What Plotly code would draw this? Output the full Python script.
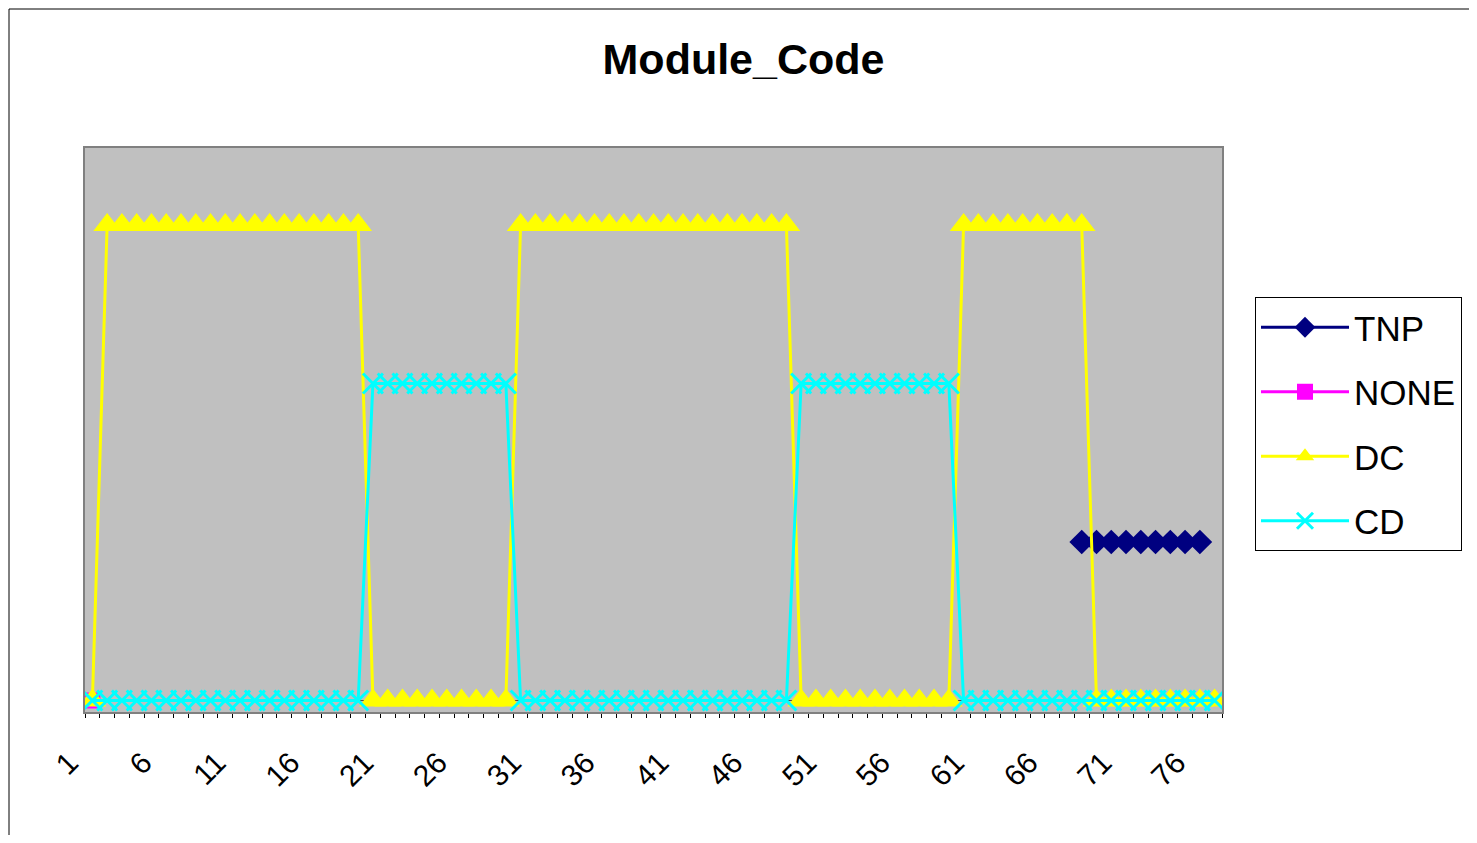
import plotly.graph_objects as go

# ---- data ----
categories = list(range(1, 78))
tick_values = [1, 6, 11, 16, 21, 26, 31, 36, 41, 46, 51, 56, 61, 66, 71, 76]
tick_labels = ["1", "6", "11", "16", "21", "26", "31", "36", "41", "46",
               "51", "56", "61", "66", "71", "76"]

tnp_x = [68, 69, 70, 71, 72, 73, 74, 75, 76]
tnp_y = [1, 1, 1, 1, 1, 1, 1, 1, 1]

none_x = [1]
none_y = [0]

dc_y = [0,
        3, 3, 3, 3, 3, 3, 3, 3, 3, 3, 3, 3, 3, 3, 3, 3, 3, 3,
        0, 0, 0, 0, 0, 0, 0, 0, 0, 0,
        3, 3, 3, 3, 3, 3, 3, 3, 3, 3, 3, 3, 3, 3, 3, 3, 3, 3, 3,
        0, 0, 0, 0, 0, 0, 0, 0, 0, 0, 0,
        3, 3, 3, 3, 3, 3, 3, 3, 3,
        0, 0, 0, 0, 0, 0, 0, 0, 0]

cd_y = [0, 0, 0, 0, 0, 0, 0, 0, 0, 0, 0, 0, 0, 0, 0, 0, 0, 0, 0,
        2, 2, 2, 2, 2, 2, 2, 2, 2, 2,
        0, 0, 0, 0, 0, 0, 0, 0, 0, 0, 0, 0, 0, 0, 0, 0, 0, 0, 0,
        2, 2, 2, 2, 2, 2, 2, 2, 2, 2, 2,
        0, 0, 0, 0, 0, 0, 0, 0, 0, 0, 0, 0, 0, 0, 0, 0, 0, 0]

FONT = "Liberation Sans, Arial, sans-serif"

# page body has an 8px margin, so the figure is laid out 8px in from the window edge
W, H = 1461, 827
PL, PT, PR, PB = 77, 140, 1214, 704   # plot-area edges in figure pixels
PW, PH = PR - PL, PB - PT

fig = go.Figure()
fig.add_trace(go.Scatter(
    x=tnp_x, y=tnp_y, name="TNP", mode="lines+markers", legendgroup="a",
    line=dict(color="#000080", width=3),
    marker=dict(symbol="diamond", size=19, color="#000080")))
fig.add_trace(go.Scatter(
    x=none_x, y=none_y, name="NONE", mode="lines+markers", legendgroup="b",
    line=dict(color="#FF00FF", width=3),
    marker=dict(symbol="square", size=16, color="#FF00FF")))
fig.add_trace(go.Scatter(
    x=categories, y=dc_y, name="DC", mode="lines+markers", legendgroup="c",
    line=dict(color="#FFFF00", width=3),
    marker=dict(symbol="triangle-up", size=24, color="#FFFF00")))
fig.add_trace(go.Scatter(
    x=categories, y=cd_y, name="CD", mode="lines+markers", legendgroup="d",
    line=dict(color="#00FFFF", width=3),
    marker=dict(symbol="x-thin", size=20, color="#00FFFF",
                line=dict(color="#00FFFF", width=3))))

fig.update_layout(
    width=W, height=H, autosize=False,
    margin=dict(l=PL, r=W - PR, t=PT, b=H - PB, autoexpand=False),
    paper_bgcolor="white", plot_bgcolor="#C0C0C0",
    font=dict(family=FONT, color="black"),
    title=dict(text="<b>Module_Code</b>", x=0.5 + 5 / W, xref="container",
               y=1 - 51 / H, yref="container", xanchor="center", yanchor="middle",
               font=dict(size=43, family=FONT, color="black")),
    showlegend=True,
    legend=dict(x=(1247 - PL) / PW, y=(PB - 289) / PH, xanchor="left", yanchor="top",
                bgcolor="white", bordercolor="black", borderwidth=1,
                font=dict(size=35, family=FONT, color="black"),
                itemwidth=88, tracegroupgap=16),
)

fig.update_xaxes(
    range=[0.5, 77.5], tickmode="array", tickvals=tick_values, ticktext=tick_labels,
    tickangle=-45, ticks="", showgrid=False, zeroline=False,
    tickfont=dict(size=30, family=FONT, color="black"),
    ticklabelstandoff=19, ticklabelshift=-23,
    showline=True, mirror=True, linecolor="#808080", linewidth=2,
    minor=dict(tickmode="linear", tick0=0.5, dtick=1, ticks="outside",
               ticklen=4, tickcolor="black", tickwidth=1, showgrid=False),
)
fig.update_yaxes(
    range=[-0.0726, 3.486], showticklabels=False, ticks="", showgrid=False,
    zeroline=True, zerolinecolor="#505050", zerolinewidth=1,
    showline=True, mirror=True, linecolor="#808080", linewidth=2,
)

# outer chart-area border (runs past the visible window on the right and bottom)
fig.add_shape(type="rect", xref="paper", yref="paper",
              x0=(1 - PL) / PW, x1=(W + 20 - PL) / PW,
              y0=(PB - H - 20) / PH, y1=(PB - 1) / PH,
              line=dict(color="black", width=1), fillcolor="rgba(0,0,0,0)", layer="below")

fig.write_html("out.html")
